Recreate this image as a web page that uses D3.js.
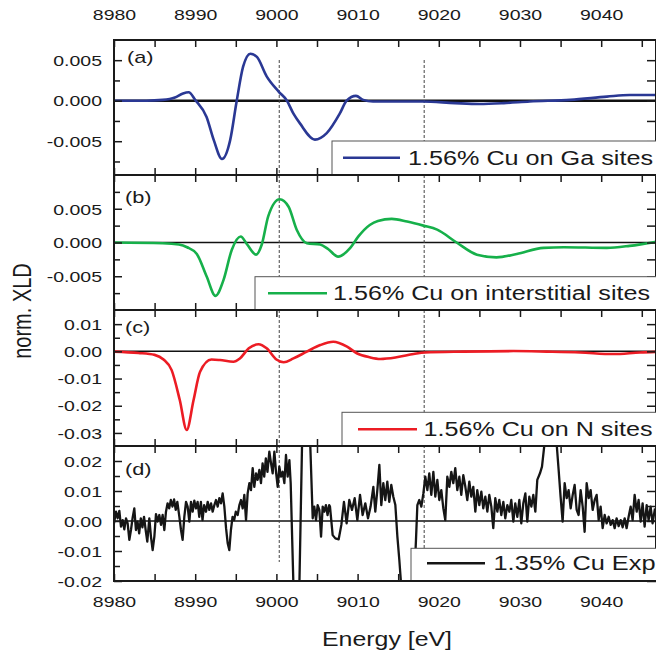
<!DOCTYPE html>
<html><head><meta charset="utf-8">
<script src="https://cdn.jsdelivr.net/npm/d3@7"></script>
<style>
body{margin:0;background:#fff}
svg{display:block}
text{font-family:"Liberation Sans",Arial,Helvetica,sans-serif;fill:#1a1a1a}
</style>
</head><body><svg id="c" width="656" height="657"></svg>
<script>
// ---------------- data ----------------
const xTicks = [8980,8985,8990,8995,9000,9005,9010,9015,9020,9025,9030,9035,9040,9045];
const xLabelValues = [8980,8990,9000,9010,9020,9030,9040];
const xLabels = ["8980","8990","9000","9010","9020","9030","9040"];
const markerEnergies = [9000.35, 9018.2];

const seriesNames = ["1.56% Cu on Ga sites","1.56% Cu on interstitial sites","1.56% Cu on N sites","1.35% Cu Exp"];
const panelLetters = ["(a)","(b)","(c)","(d)"];

const aE = [8980,8984,8986,8987.5,8988.5,8989.2,8990,8991.4,8992.3,8993.3,8994.3,8995.1,8995.9,8996.8,8997.6,8998.8,9000.3,9001.3,9002.1,9002.9,9004.75,9006.2,9007.8,9008.65,9009.8,9010.7,9011.9,9015,9018,9022,9025,9028,9031.2,9036.2,9040.7,9043.5,9046.75];
const aV = [0,0,0.0001,0.0004,0.0009,0.00104,0.0001,-0.002,-0.0049,-0.0072,-0.0049,-0.0001,0.0042,0.0058,0.0054,0.003,0.0011,0,-0.0016,-0.0028,-0.0048,-0.004,-0.0016,0,0.0006,0.0001,-0.0001,-0.0001,-0.0001,-0.0003,-0.0004,-0.0003,-0.0001,0.0001,0.0005,0.0007,0.0007];

const bE = [8980,8986,8988,8989,8990.2,8991.4,8992.5,8993.5,8994.5,8995.6,8996.4,8997.5,8998.2,8999,9000.4,9001.5,9002.5,9003.75,9005.4,9006.4,9007.6,9009.1,9010.1,9011.5,9012.5,9014.2,9016.1,9018.1,9019.8,9022.2,9024.7,9027.1,9029.6,9032.9,9035.4,9040.7,9043.5,9046.75];
const bV = [0,-0.0001,-0.0003,-0.0007,-0.0017,-0.005,-0.0079,-0.0055,-0.0011,0.0009,-0.0003,-0.0018,-0.0003,0.0039,0.0064,0.0053,0.0019,-0.0001,-0.0003,-0.001,-0.0021,-0.0008,0.0009,0.0026,0.0032,0.0035,0.0031,0.0025,0.0019,0,-0.0018,-0.0022,-0.0017,-0.0008,-0.0007,-0.0008,-0.0005,0.0001];

const cE = [8980,8983,8985,8986.1,8987.1,8988.1,8988.95,8989.8,8990.6,8992,8993.05,8994.7,8995.5,8996.6,8997.8,8998.8,9000,9000.9,9002.1,9003.75,9005.4,9007,9008.7,9009.9,9011.5,9012.8,9014.8,9016.9,9018.3,9023,9029.2,9033.3,9037.4,9041.5,9044.8,9046.75];
const cV = [-0.0001,-0.0006,-0.0013,-0.003,-0.0069,-0.0179,-0.0289,-0.0179,-0.0075,-0.003,-0.0032,-0.0038,-0.0026,0.0011,0.0026,0.0011,-0.003,-0.004,-0.0026,-0.0001,0.0023,0.0035,0.0017,-0.0007,-0.0022,-0.0028,-0.0022,-0.001,-0.0004,-0.0001,0.0001,-0.0001,-0.0004,-0.001,-0.0004,-0.0002];

const dE = [8980.0,8980.25,8980.45,8980.66,8980.86,8981.07,8981.27,8981.48,8981.68,8981.89,8982.09,8982.3,8982.5,8982.7,8982.9,8983.1,8983.3,8983.5,8983.7,8983.9,8984.1,8984.35,8984.55,8984.76,8984.97,8985.17,8985.38,8985.58,8985.79,8985.99,8986.2,8986.4,8986.6,8986.8,8987.0,8987.2,8987.4,8987.6,8987.8,8988.05,8988.25,8988.45,8988.66,8988.87,8989.07,8989.28,8989.48,8989.69,8989.89,8990.1,8990.3,8990.5,8990.7,8990.9,8991.1,8991.33,8991.54,8991.74,8991.95,8992.15,8992.36,8992.56,8992.77,8992.97,8993.18,8993.38,8993.59,8993.8,8994.0,8994.2,8994.4,8994.6,8994.8,8995.0,8995.23,8995.44,8995.64,8995.85,8996.05,8996.26,8996.46,8996.67,8996.87,8997.08,8997.28,8997.49,8997.69,8997.9,8998.1,8998.3,8998.5,8998.7,8998.9,8999.13,8999.34,8999.54,8999.75,8999.95,9000.16,9000.36,9000.57,9000.77,9000.98,9001.18,9001.39,9001.6,9001.76,9002.09,9002.5,9002.82,9003.19,9003.72,9004.14,9004.47,9004.67,9004.88,9005.08,9005.29,9005.5,9005.7,9005.9,9006.1,9006.3,9006.5,9006.6,9006.93,9007.26,9007.67,9008.0,9008.32,9008.65,9008.98,9009.31,9009.64,9009.97,9010.3,9010.62,9010.95,9011.28,9011.6,9011.94,9012.18,9012.43,9012.68,9012.92,9013.17,9013.41,9013.66,9013.9,9014.15,9014.4,9014.65,9014.9,9015.14,9015.38,9016.25,9016.94,9017.19,9017.36,9017.6,9017.85,9018.1,9018.34,9018.59,9018.83,9019.08,9019.33,9019.57,9019.82,9020.06,9020.31,9020.56,9020.8,9021.05,9021.3,9021.54,9021.79,9022.03,9022.28,9022.53,9022.77,9023.02,9023.27,9023.51,9023.76,9024.0,9024.25,9024.5,9024.74,9024.99,9025.24,9025.48,9025.73,9025.98,9026.22,9026.47,9026.71,9026.96,9027.21,9027.45,9027.7,9027.95,9028.19,9028.44,9028.69,9028.93,9029.18,9029.42,9029.67,9029.92,9030.16,9030.41,9030.66,9030.9,9031.15,9031.4,9031.64,9031.89,9032.13,9032.46,9032.71,9033.0,9033.28,9034.02,9034.51,9034.76,9035.0,9035.25,9035.5,9035.75,9035.99,9036.24,9036.49,9036.73,9036.98,9037.22,9037.47,9037.72,9037.96,9038.21,9038.46,9038.7,9038.95,9039.2,9039.44,9039.69,9039.93,9040.18,9040.43,9040.67,9040.92,9041.17,9041.41,9041.66,9041.9,9042.15,9042.4,9042.64,9042.89,9043.13,9043.38,9043.63,9043.87,9044.12,9044.37,9044.61,9044.86,9045.1,9045.35,9045.6,9045.84,9046.09,9046.33,9046.62];
const dV = [-0.0008,0.0031,0.0009,0.0034,-0.0019,0.0003,-0.0028,0.0009,-0.0008,-0.0063,-0.003,0.0012,0.0042,-0.003,-0.0002,-0.0041,0.0009,-0.0021,0.0014,-0.003,-0.0069,0.0009,-0.0052,-0.0097,-0.0052,0.0023,-0.0002,0.002,-0.0013,0.002,-0.003,0.0031,0.0059,0.0042,0.007,0.0048,0.0072,0.0037,0.0064,0.0014,-0.003,-0.0063,0.0014,0.0064,0.0048,-0.0002,0.0064,0.0031,0.0068,0.0042,0.0064,0.0014,0.0064,0.0003,0.0053,0.0031,0.0064,0.0037,0.0059,0.0031,0.0053,0.007,0.0048,0.0076,0.0059,0.0092,0.0048,-0.0024,-0.0074,-0.0097,-0.003,0.0014,0.0003,0.0031,0.002,0.0053,0.007,0.0042,0.0087,0.0003,0.0092,0.0126,0.0103,0.0176,0.0114,0.0159,0.0137,0.017,0.0126,0.0192,0.0148,0.0209,0.0164,0.0231,0.0192,0.0159,0.0231,0.0164,0.0114,0.0181,0.0148,0.0164,0.0126,0.022,0.0148,0.0203,0.0126,-0.0208,-0.026,-0.023,0.03,0.03,0.028,0.0009,0.0048,0.0003,0.0053,0.0037,-0.0052,0.0048,0.0031,0.0053,0.002,0.0053,0.0048,-0.0047,-0.0058,-0.0061,-0.0013,0.0064,-0.0008,0.007,0.0037,0.0076,0.0003,0.0087,0.002,0.0059,0.0009,0.0048,0.0114,0.0031,0.0103,0.0187,0.0053,0.0126,0.007,0.0131,0.0064,0.012,0.0081,0.0053,-0.0052,-0.013,-0.0219,-0.026,-0.0219,-0.0063,0.0053,0.007,0.0048,0.0092,0.0148,0.0103,0.0159,0.0087,0.0164,0.0081,0.0137,0.007,0.0103,0.0042,0.0003,0.0148,0.0114,0.0164,0.0126,0.0176,0.0103,0.0148,0.0087,0.0153,0.0114,0.007,0.0131,0.0081,0.0114,0.0031,0.0103,0.0053,0.0098,0.0042,0.0081,0.0031,0.0087,0.0048,-0.0024,0.0076,0.0031,0.007,0.002,0.0064,0.0009,0.0053,0.0031,0.007,-0.0002,0.0059,0.0014,0.007,-0.0008,0.0059,0.0092,-0.0002,0.0081,0.0048,0.0087,0.0031,0.0137,0.0159,0.0181,0.0253,0.03,0.03,0.0259,0.017,0.0081,-0.0002,0.0126,0.0076,0.0103,0.0042,0.0087,0.012,0.0037,0.002,0.0103,0.0048,-0.0036,0.0126,0.0076,0.0103,0.0037,0.007,0.0087,0.0003,0.0048,-0.0024,0.002,-0.0008,0.0014,-0.0013,0.0003,-0.0024,0.0009,-0.0017,0.0003,-0.0021,0.0009,-0.0024,0.0014,0.0048,0.0003,0.0087,0.0031,0.007,-0.0002,0.0059,-0.0019,0.0053,0.0003,0.0048,-0.0008,0.0042];

const aTicks=[0.005,0,-0.005], aTickLabels=["0.005","0.000","-0.005"], aMinor=[0.0025,-0.0025,-0.0075];
const bTicks=[0.005,0,-0.005], bTickLabels=["0.005","0.000","-0.005"], bMinor=[0.0075,0.0025,-0.0025,-0.0075];
const cTicks=[0.01,0,-0.01,-0.02,-0.03], cTickLabels=["0.01","0.00","-0.01","-0.02","-0.03"], cMinor=[0.005,-0.005,-0.015,-0.025];
const dTicks=[0.02,0.01,0,-0.01,-0.02], dTickLabels=["0.02","0.01","0.00","-0.01","-0.02"], dMinor=[0.015,0.005,-0.005,-0.015];

const xTitle = "Energy [eV]";
const yTitle = "norm. XLD";

// ---------------- layout / style ----------------
const svg = d3.select("#c");
const FONT_SX = 1.3;
const x = d3.scaleLinear().domain([8980, 9046.75]).range([114, 656]);
const x0 = x.range()[0], x1 = x.range()[1];

const panels = [
  {E:aE, V:aV, ticks:aTicks, labels:aTickLabels, minor:aMinor, dom:[-0.00917,0.00749], top:40, bot:175, color:"#2a3894", zeroW:2.5, curve:d3.curveMonotoneX,
   leg:{bx:332,by:141,lx1:343,lx2:400,ly:157.7,tx:408,tw:245}, lab:{x:127,y:63}},
  {E:bE, V:bV, ticks:bTicks, labels:bTickLabels, minor:bMinor, dom:[-0.01,0.01], top:175, bot:310, color:"#16b04a", zeroW:1.5, curve:d3.curveMonotoneX,
   leg:{bx:255,by:276.7,lx1:268,lx2:327,ly:293.3,tx:333,tw:317}, lab:{x:125,y:203}},
  {E:cE, V:cV, ticks:cTicks, labels:cTickLabels, minor:cMinor, dom:[-0.0348,0.0152], top:310, bot:446, color:"#ec1c24", zeroW:1.5, curve:d3.curveMonotoneX,
   leg:{bx:342,by:412.3,lx1:358,lx2:417,ly:429.3,tx:423.5,tw:229}, lab:{x:125,y:333}},
  {E:dE, V:dV, ticks:dTicks, labels:dTickLabels, minor:dMinor, dom:[-0.02,0.025], top:446, bot:581, color:"#151515", zeroW:1.5, curve:d3.curveLinear,
   leg:{bx:411,by:548.3,lx1:427,lx2:485,ly:563.3,tx:493.5,tw:162}, lab:{x:125,y:475}}
];

const gZero = svg.append("g"), gDash = svg.append("g"), gCurves = svg.append("g"), gAxes = svg.append("g"), gLeg = svg.append("g");

function styleAxis(g){
  g.select(".domain").remove();
  g.selectAll(".tick line").attr("stroke","#1a1a1a").attr("stroke-width",1.5);
}

panels.forEach((p, i) => {
  const y = d3.scaleLinear().domain(p.dom).range([p.bot, p.top]);
  const cid = "clip"+i;
  svg.append("clipPath").attr("id", cid).append("rect")
    .attr("x", x0).attr("y", p.top).attr("width", x1 - x0).attr("height", p.bot - p.top);

  gZero.append("line").attr("x1", x0).attr("x2", x1).attr("y1", y(0)).attr("y2", y(0))
    .attr("stroke", "#111").attr("stroke-width", p.zeroW);

  const pts = p.E.map((e, k) => [e, p.V[k]]);
  gCurves.append("path").datum(pts)
    .attr("clip-path", `url(#${cid})`)
    .attr("fill","none").attr("stroke", p.color).attr("stroke-width", i===3 ? 2.3 : 2.6)
    .attr("stroke-linejoin","round")
    .attr("d", d3.line().x(d => x(d[0])).y(d => y(d[1])).curve(p.curve));

  // left axis
  const gl = gAxes.append("g").attr("transform", `translate(${x0},0)`)
    .call(d3.axisLeft(y).tickValues(p.ticks).tickFormat((d, k) => p.labels[k]).tickSizeInner(-8).tickSizeOuter(0));
  styleAxis(gl);
  gl.selectAll(".tick text").attr("x", 0).attr("dy", "0.35em").attr("font-size", 15)
    .attr("transform", `translate(-12,0) scale(${FONT_SX},1)`).style("fill", "#1a1a1a");
  const glm = gAxes.append("g").attr("transform", `translate(${x0},0)`)
    .call(d3.axisLeft(y).tickValues(p.minor).tickFormat("").tickSizeInner(-6).tickSizeOuter(0));
  styleAxis(glm);
  // right axis
  const gr = gAxes.append("g").attr("transform", `translate(${x1},0)`)
    .call(d3.axisRight(y).tickValues(p.ticks.concat(p.minor)).tickFormat("").tickSizeInner(-9).tickSizeOuter(0));
  styleAxis(gr);

  // top & bottom tick rows
  const fmt = d => { const k = xLabelValues.indexOf(d); return k >= 0 ? xLabels[k] : ""; };
  const gt = gAxes.append("g").attr("transform", `translate(0,${p.top})`)
    .call(d3.axisTop(x).tickValues(xTicks).tickFormat(i === 0 ? fmt : "").tickSizeInner(-7).tickSizeOuter(0));
  styleAxis(gt);
  gt.selectAll(".tick text").attr("y", -20).attr("dy", null).attr("font-size", 15)
    .attr("transform", `scale(${FONT_SX},1)`).style("fill", "#1a1a1a");
  const gb = gAxes.append("g").attr("transform", `translate(0,${p.bot})`)
    .call(d3.axisBottom(x).tickValues(xTicks).tickFormat(i === 3 ? fmt : "").tickSizeInner(-7).tickSizeOuter(0));
  styleAxis(gb);
  gb.selectAll(".tick text").attr("y", 26).attr("dy", null).attr("font-size", 15)
    .attr("transform", `scale(${FONT_SX},1)`).style("fill", "#1a1a1a");

  // frame
  gAxes.append("rect").attr("x", x0).attr("y", p.top).attr("width", x1 - x0).attr("height", p.bot - p.top)
    .attr("fill", "none").attr("stroke", "#1a1a1a").attr("stroke-width", 2);

  // panel letter
  gAxes.append("text").attr("transform", `translate(${p.lab.x},${p.lab.y}) scale(1.28,1)`)
    .attr("font-size", 17).text(panelLetters[i]);

  // legend
  const L = p.leg;
  gLeg.append("rect").attr("x", L.bx).attr("y", L.by).attr("width", 700 - L.bx).attr("height", p.bot - L.by)
    .attr("fill", "#fff").attr("stroke", "#555").attr("stroke-width", 1);
  gLeg.append("line").attr("x1", L.lx1).attr("x2", L.lx2).attr("y1", L.ly).attr("y2", L.ly)
    .attr("stroke", p.color).attr("stroke-width", 2.5);
  gLeg.append("text").attr("x", L.tx).attr("y", L.ly + 7).attr("font-size", 19.5)
    .attr("textLength", L.tw).attr("lengthAdjust", "spacingAndGlyphs").text(seriesNames[i]);
});

// re-draw frame lines above legends (legend boxes sit on the panel bottom edge)
panels.forEach(p => {
  gLeg.append("line").attr("x1", x0).attr("x2", x1).attr("y1", p.bot).attr("y2", p.bot)
    .attr("stroke", "#1a1a1a").attr("stroke-width", 2);
});

// vertical dashed markers
markerEnergies.forEach(e => {
  gDash.append("line").attr("x1", x(e)).attr("x2", x(e)).attr("y1", 60).attr("y2", 562)
    .attr("stroke", "#444").attr("stroke-width", 1).attr("stroke-dasharray", "3,2");
});

// axis titles
svg.append("text").attr("x", 387).attr("y", 646).attr("text-anchor", "middle").attr("font-size", 20)
  .attr("textLength", 130).attr("lengthAdjust", "spacingAndGlyphs").text(xTitle);
svg.append("text").attr("transform", "translate(31,311) scale(1.28,1) rotate(-90)")
  .attr("text-anchor", "middle").attr("font-size", 20).text(yTitle);
</script>
</body></html>
